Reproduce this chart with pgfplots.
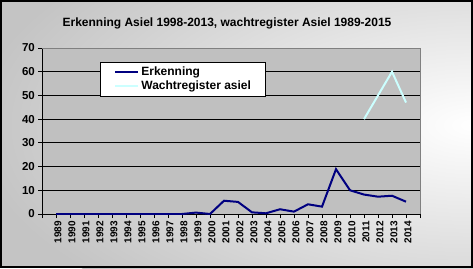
\documentclass[border=0pt]{standalone}
\usepackage{pgfplots}
\pgfplotsset{compat=1.18}
\usepackage{fontspec}
\setmainfont{Liberation Sans}

\definecolor{plotgray}{HTML}{C0C0C0}
\definecolor{bordergray}{HTML}{808080}
\definecolor{outergray}{HTML}{C4C4C4}
\definecolor{erk}{HTML}{000080}
\definecolor{wacht}{HTML}{CCFFFF}

\begin{document}
\begin{tikzpicture}[x=1pt,y=1pt]
\useasboundingbox (0,0) rectangle (473,268);
% chart area with light patch on the right
\fill[outergray] (0,0) rectangle (473,268);
\begin{scope}
  \clip (0,0) rectangle (473,268);
  \shade[inner color=white, outer color=outergray] (473,143) ellipse [x radius=500, y radius=230];
\end{scope}
\draw[black, line width=2pt] (1,1) rectangle (472,267);

\node[font=\bfseries\fontsize{12}{14}\selectfont] at (227,245) {Erkenning Asiel 1998-2013, wachtregister Asiel 1989-2015};

\begin{axis}[
    at={(42pt,54pt)}, anchor=south west,
    scale only axis, width=378pt, height=166pt,
    xmin=1988, xmax=2015,
    ymin=0, ymax=70,
    axis background/.style={fill=plotgray, draw=bordergray},
    axis x line*=bottom, axis y line*=left,
    axis line style={black, -, line width=0.8pt},
    tick align=outside,
    major tick length=4pt,
    tick style={black, line width=0.8pt},
    xtick={1989,...,2014},
    extra x ticks={1988,2015},
    extra x tick labels={},
    ytick={0,10,...,70},
    ymajorgrids,
    major grid style={black, line width=0.8pt},
    /pgf/number format/1000 sep={},
    /pgf/number format/assume math mode=true,
    xticklabel style={font=\bfseries\fontsize{10}{12}\selectfont, rotate=90, anchor=east, inner sep=0pt, xshift=-3pt, yshift=-2pt},
    yticklabel style={font=\bfseries\fontsize{11.5}{13}\selectfont, inner sep=3pt},
    legend cell align=left,
    legend image code/.code={\draw[#1] (0pt,0pt) -- (23pt,0pt);},
    legend style={
        at={(0.1534,0.9157)}, anchor=north west,
        draw=black, fill=white, line width=0.8pt,
        font=\bfseries\fontsize{12}{14}\selectfont,
        inner xsep=14pt, inner ysep=4pt, row sep=2pt,
        nodes={inner sep=0pt, text height=9pt, text depth=3pt},
        /tikz/every odd column/.append style={column sep=2pt}
    },
]
\addplot[erk, line width=2pt, no marks] coordinates {
  (1989,0) (1990,0) (1991,0) (1992,0) (1993,0) (1994,0) (1995,0)
  (1996,0) (1997,0) (1998,0) (1999,0.6) (2000,0) (2001,5.6) (2002,5.1)
  (2003,0.7) (2004,0.3) (2005,2.0) (2006,1.0) (2007,4.1) (2008,3.1)
  (2009,18.9) (2010,10.0) (2011,8.2) (2012,7.3) (2013,7.7) (2014,5.2)
};
\addplot[wacht, line width=2pt, no marks] coordinates {
  (2011,40) (2012,50) (2013,60) (2014,47)
};
\draw[bordergray, line width=0.8pt] (rel axis cs:0,1) -- (rel axis cs:1,1);
\legend{Erkenning, Wachtregister asiel}
\end{axis}
\end{tikzpicture}
\end{document}
